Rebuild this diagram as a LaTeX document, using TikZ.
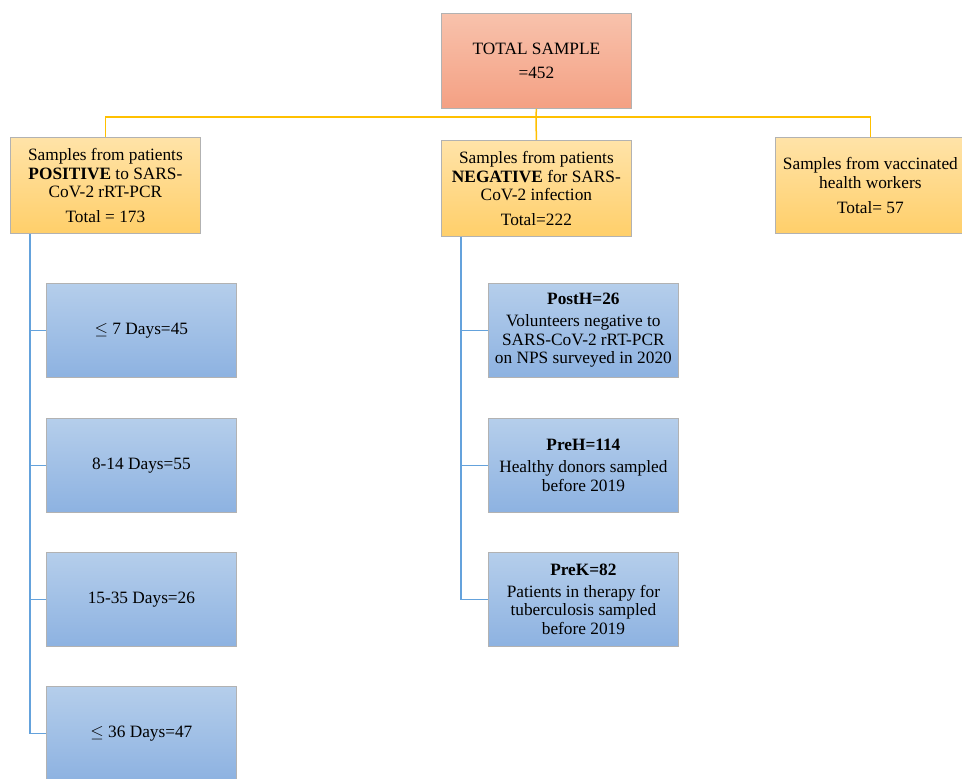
\documentclass[tikz,border=0pt]{standalone}
\usepackage{fontspec}
\setmainfont{Liberation Serif}
\newfontfamily\tnr{Liberation Serif}
\definecolor{salmonT}{HTML}{F8C2AC}
\definecolor{salmonB}{HTML}{F4A083}
\definecolor{goldT}{HTML}{FFE3A8}
\definecolor{goldB}{HTML}{FFCF6A}
\definecolor{blueT}{HTML}{B5CEEB}
\definecolor{blueB}{HTML}{8DB2E1}
\definecolor{yline}{HTML}{FFC000}
\definecolor{bline}{HTML}{64A2DC}
\begin{document}
\begin{tikzpicture}[x=1pt,y=-1pt,
  box/.style={draw=black!30, line width=0.8pt, minimum width=190pt, inner sep=0pt,
    align=center, anchor=north west, font=\tnr\fontsize{17.3}{18.7}\selectfont},
  redbox/.style={box, top color=salmonT, bottom color=salmonB, minimum height=95pt},
  goldbox/.style={box, top color=goldT, bottom color=goldB, minimum height=96pt},
  bluebox/.style={box, top color=blueT, bottom color=blueB, minimum height=94pt},
  ylink/.style={draw=yline, line width=1.5pt},
  blink/.style={draw=bline, line width=1.8pt}]
\useasboundingbox (0,0) rectangle (962,779);
\fill[white] (0,0) rectangle (962,779);

\node[redbox] (top) at (441,13) {TOTAL SAMPLE\\[6pt]=452};

\node[goldbox] (pos) at (10,137) {Samples from patients\\\textbf{POSITIVE} to SARS-\\CoV-2 rRT-PCR\\[6pt]Total = 173};
\node[goldbox] (neg) at (441,140) {Samples from patients\\\textbf{NEGATIVE} for SARS-\\CoV-2 infection\\[6pt]Total=222};
\node[goldbox] (vac) at (775,137) {Samples from vaccinated\\health workers\\[6pt]Total= 57};

\node[bluebox] (d1) at (46,283) {$\leq$ 7 Days=45};
\node[bluebox] (d2) at (46,418) {8-14 Days=55};
\node[bluebox] (d3) at (46,552) {15-35 Days=26};
\node[bluebox] (d4) at (46,686) {$\leq$ 36 Days=47};

\node[bluebox] (n1) at (488,283) {\textbf{PostH=26}\\[3pt]Volunteers negative to\\SARS-CoV-2 rRT-PCR\\on NPS surveyed in 2020};
\node[bluebox] (n2) at (488,418) {\textbf{PreH=114}\\[3pt]Healthy donors sampled\\before 2019};
\node[bluebox] (n3) at (488,552) {\textbf{PreK=82}\\[3pt]Patients in therapy for\\tuberculosis sampled\\before 2019};

% yellow connectors
\coordinate (j) at (536,117);
\draw[ylink] (top.south) -- (j);
\draw[ylink] (pos.north) |- (j) -| (vac.north);
\draw[ylink] (j) -- (neg.north);

% blue connectors, positive branch
\coordinate (pv) at ([xshift=20pt]pos.south west);
\draw[blink] (pv) |- (d4.west);
\foreach \n in {d1,d2,d3} \draw[blink] (pv |- \n.west) -- (\n.west);

% blue connectors, negative branch
\coordinate (nv) at ([xshift=20pt]neg.south west);
\draw[blink] (nv) |- (n3.west);
\foreach \n in {n1,n2} \draw[blink] (nv |- \n.west) -- (\n.west);
\end{tikzpicture}
\end{document}
